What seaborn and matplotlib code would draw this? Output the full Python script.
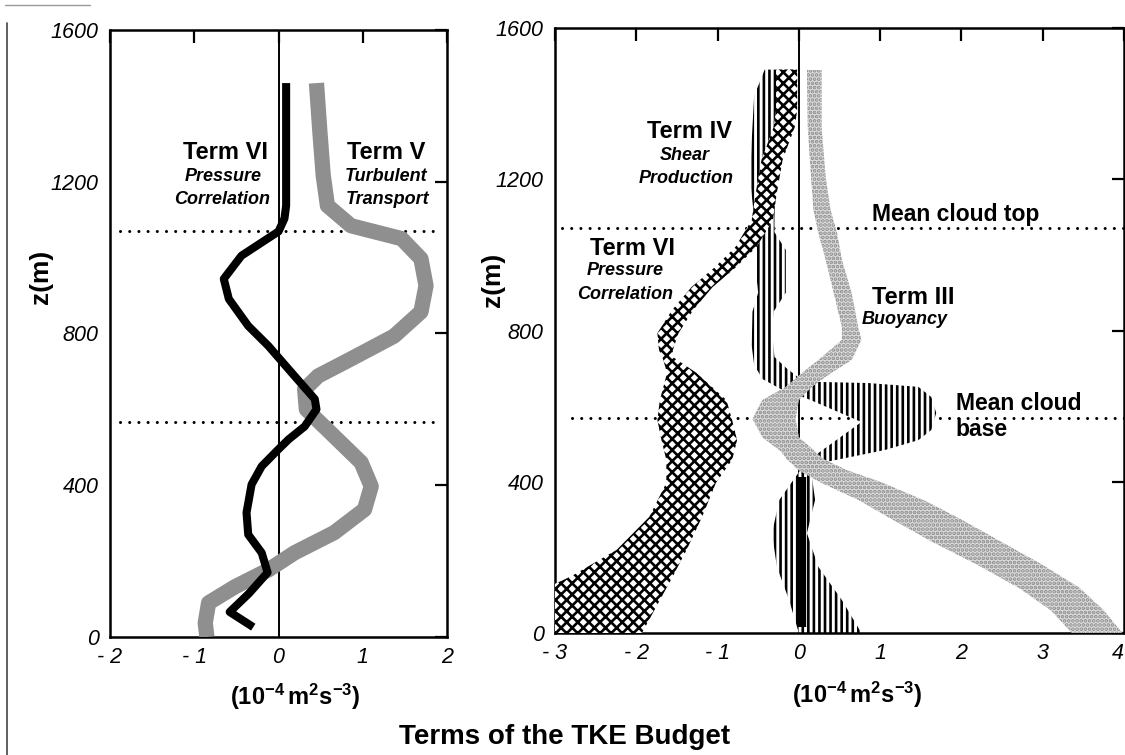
import numpy as np
import pandas as pd
import seaborn as sns
import matplotlib.pyplot as plt
from matplotlib.lines import Line2D

# --- Dados (z em m, termos em 1e-4 m2 s-3) ---

# painel esquerdo: Termo VI (correlacao de pressao), linha preta
z_press_left = [1460, 1137, 1103, 1069, 1005, 944, 891, 820, 767, 698, 627, 600,
                555, 521, 495, 450, 402, 328, 270, 222, 170, 115, 66, 26]
x_press_left = [0.09, 0.09, 0.07, 0.0, -0.44, -0.65, -0.59, -0.36, -0.12, 0.15, 0.43, 0.45,
                0.31, 0.12, 0.0, -0.20, -0.32, -0.38, -0.36, -0.20, -0.13, -0.35, -0.58, -0.30]

# painel esquerdo: Termo V (transporte turbulento), faixa cinza
z_turb = [1460, 1333, 1217, 1137, 1084, 1050, 997, 926, 857, 793, 733, 688, 653, 600,
          529, 460, 397, 336, 275, 222, 177, 132, 90, 37, 0]
x_turb = [0.45, 0.49, 0.53, 0.58, 0.86, 1.46, 1.69, 1.75, 1.69, 1.37, 0.86, 0.47, 0.31, 0.33,
          0.66, 0.98, 1.10, 1.02, 0.66, 0.19, -0.12, -0.52, -0.83, -0.87, -0.85]

# painel direito: Termo VI (correlacao de pressao), envelope quadriculado
z_press = [0, 130, 150, 220, 307, 397, 458, 510, 563, 616, 688, 730, 748, 793,
           854, 915, 968, 1021, 1092, 1164, 1251, 1338, 1383, 1490]
lo_press = [-3.0, -3.0, -2.8, -2.24, -1.84, -1.63, -1.63, -1.69, -1.74, -1.71, -1.62, -1.68, -1.72, -1.74,
            -1.56, -1.32, -1.03, -0.78, -0.58, -0.53, -0.46, -0.31, -0.28, -0.28]
hi_press = [-1.93, -1.6, -1.55, -1.38, -1.19, -1.02, -0.82, -0.76, -0.82, -0.89, -1.26, -1.55, -1.55, -1.48,
            -1.30, -1.06, -0.77, -0.52, -0.32, -0.27, -0.20, -0.05, -0.02, -0.02]

# painel direito: Termo III (empuxo), envelope pontilhado
z_buoy = [0, 60, 120, 180, 240, 300, 350, 400, 430, 460, 480, 518, 566, 616, 651,
          688, 722, 775, 809, 899, 987, 1058, 1119, 1206, 1338, 1489]
lo_buoy = [3.36, 3.10, 2.70, 2.20, 1.65, 1.15, 0.75, 0.25, 0.0, -0.15, -0.22, -0.45, -0.57, -0.45, -0.16,
           0.04, 0.24, 0.53, 0.53, 0.43, 0.33, 0.24, 0.18, 0.15, 0.11, 0.10]
hi_buoy = [3.98, 3.75, 3.45, 3.00, 2.50, 2.00, 1.55, 1.00, 0.60, 0.30, 0.20, 0.0, -0.04, 0.0, 0.16,
           0.40, 0.65, 0.77, 0.73, 0.65, 0.53, 0.47, 0.39, 0.33, 0.28, 0.28]

# painel direito: Termo IV (producao por cisalhamento), contorno da area hachurada
x_shear = [-0.42, -0.55, -0.58, -0.60, -0.55, -0.52, -0.53, -0.50, -0.57, -0.58, -0.55, -0.45,
           -0.22, 0.0, 0.09, 0.77, 0.24, 0.05, -0.04, -0.24, -0.33, -0.27, -0.12, 0.0,
           0.77, 0.53, 0.24, 0.10, 0.20, 0.16, 0.28, 0.65, 1.06, 1.47, 1.63, 1.69, 1.63,
           1.47, 0.86, 0.24, 0.0, -0.15, -0.30, -0.33, -0.31, -0.16, -0.16, -0.30, -0.30,
           -0.28, -0.20, -0.05]
z_shear = [1490, 1420, 1300, 1200, 1100, 1040, 960, 900, 850, 760, 710, 672,
           645, 628, 621, 558, 476, 440, 413, 352, 264, 175, 87, 0,
           0, 87, 175, 264, 352, 413, 450, 466, 484, 510, 537, 582, 624,
           651, 661, 664, 675, 700, 730, 800, 850, 900, 1013, 1060, 1100,
           1200, 1340, 1490]

# barra preta junto ao zero (painel direito)
z_bar = [16, 413]
x_bar = [0.035, 0.035]

cloud_top = 1070
cloud_base = 568

z_ticks = [0, 400, 800, 1200, 1600]
z_ticklabels = ['0', '400', '800', '1200', '1600']
x_ticks_left = [-2, -1, 0, 1, 2]
x_labels_left = ['- 2', '- 1', '0', '1', '2']
x_ticks_right = [-3, -2, -1, 0, 1, 2, 3, 4]
x_labels_right = ['- 3', '- 2', '- 1', '0', '1', '2', '3', '4']

# --- Estilo ---
sns.set_theme(style='white')
plt.rcParams['font.family'] = ['Liberation Sans', 'DejaVu Sans']
plt.rcParams['text.color'] = 'black'
plt.rcParams['axes.labelcolor'] = 'black'
plt.rcParams['xtick.color'] = 'black'
plt.rcParams['ytick.color'] = 'black'
plt.rcParams['hatch.linewidth'] = 1.9
plt.rcParams['mathtext.fontset'] = 'custom'
plt.rcParams['mathtext.rm'] = 'Liberation Sans'
plt.rcParams['mathtext.bf'] = 'Liberation Sans:bold'

fig = plt.figure(figsize=(11.25, 7.55), dpi=100)
ax1 = fig.add_axes([0.0978, 0.1563, 0.2996, 0.804])
ax2 = fig.add_axes([0.4933, 0.1616, 0.5058, 0.8013])

unit_label = r'$\mathbf{(10^{-4}\,m^{2}s^{-3})}$'
dots = (0, (0.01, 3.0))


def style_axes(ax, xlim, xticks, xlabels):
    ax.set_xlim(xlim)
    ax.set_ylim(0, 1600)
    ax.set_xticks(xticks, labels=xlabels, fontstyle='italic', fontsize=15.5)
    ax.set_yticks(z_ticks, labels=z_ticklabels, fontstyle='italic', fontsize=15.5)
    ax.tick_params(direction='in', top=True, right=True, length=9, width=1.6)
    ax.tick_params(axis='y', pad=8)
    ax.tick_params(axis='x', pad=7)
    for s in ax.spines.values():
        s.set_linewidth(1.8)
        s.set_color('black')
    ax.axvline(0, color='black', lw=1.4, zorder=2)
    ax.set_ylabel('z(m)', fontsize=19, fontweight='bold')
    ax.set_xlabel(unit_label, fontsize=17)


# --- Painel esquerdo ---
style_axes(ax1, (-2, 2), x_ticks_left, x_labels_left)
for zc in (cloud_top, cloud_base):
    ax1.axhline(zc, xmin=0.03, xmax=0.97, color='black', lw=2.2, ls=dots,
                dash_capstyle='round', zorder=1)
sns.lineplot(x=x_turb, y=z_turb, orient='y', sort=False, estimator=None, ax=ax1,
             color='#8f8f8f', lw=11, solid_capstyle='butt', zorder=3)
sns.lineplot(x=x_press_left, y=z_press_left, orient='y', sort=False, estimator=None, ax=ax1,
             color='black', lw=5.8, solid_capstyle='butt', solid_joinstyle='round', zorder=4)

head = dict(fontsize=17, fontweight='bold', ha='center', va='center', zorder=1)
sub = dict(fontsize=13, fontweight='bold', fontstyle='italic', ha='center', va='center', zorder=1)
ax1.text(-0.63, 1276, 'Term VI', **head)
ax1.text(-0.66, 1215, 'Pressure', **sub)
ax1.text(-0.67, 1152, 'Correlation', **sub)
ax1.text(1.28, 1276, 'Term V', **head)
ax1.text(1.27, 1215, 'Turbulent', **sub)
ax1.text(1.29, 1152, 'Transport', **sub)

# --- Painel direito ---
style_axes(ax2, (-3, 4), x_ticks_right, x_labels_right)
ax2.get_xticklabels()[-1].set_horizontalalignment('right')
ax2.axhline(cloud_top, xmin=0.012, xmax=1, color='black', lw=2.2, ls=dots,
            dash_capstyle='round', zorder=1)
ax2.axhline(cloud_base, xmin=0.03, xmax=1, color='black', lw=2.2, ls=dots,
            dash_capstyle='round', zorder=1)
ax2.fill(x_shear, z_shear, facecolor='white', edgecolor='black', hatch='|||', lw=0, zorder=2)
ax2.fill_betweenx(z_buoy, lo_buoy, hi_buoy, facecolor='#dedede', edgecolor='#8c8c8c',
                  hatch='....', lw=0, zorder=3)
ax2.fill_betweenx(z_press, lo_press, hi_press, facecolor='white', edgecolor='black',
                  hatch='xxx', lw=0, zorder=4)
sns.lineplot(x=x_bar, y=z_bar, orient='y', sort=False, estimator=None, ax=ax2,
             color='black', lw=6, solid_capstyle='butt', zorder=5)

ax2.text(-1.35, 1325, 'Term IV', **head)
ax2.text(-1.40, 1264, 'Shear', **sub)
ax2.text(-1.39, 1203, 'Production', **sub)
ax2.text(-2.05, 1018, 'Term VI', **head)
ax2.text(-2.13, 960, 'Pressure', **sub)
ax2.text(-2.14, 894, 'Correlation', **sub)
ax2.text(0.90, 1106, 'Mean cloud top', fontsize=16.5, fontweight='bold', ha='left', va='center')
ax2.text(0.90, 886, 'Term III', fontsize=17, fontweight='bold', ha='left', va='center')
ax2.text(0.77, 828, 'Buoyancy', fontsize=13, fontweight='bold', fontstyle='italic',
         ha='left', va='center')
ax2.text(1.93, 608, 'Mean cloud', fontsize=16.5, fontweight='bold', ha='left', va='center', zorder=6)
ax2.text(1.93, 537, 'base', fontsize=16.5, fontweight='bold', ha='left', va='center', zorder=6)

# posicao dos rotulos dos eixos
ax1.yaxis.set_label_coords(-0.169, 0.593)
ax2.yaxis.set_label_coords(-0.088, 0.583)
ax1.xaxis.set_label_coords(0.549, -0.074)
ax2.xaxis.set_label_coords(0.531, -0.078)

fig.text(0.502, 1 - 737 / 755, 'Terms of the TKE Budget', ha='center', va='center',
         fontsize=20, fontweight='bold')

# borda da digitalizacao
fig.add_artist(Line2D([0.006, 0.006], [0.0, 0.97], color='#444444', lw=1.2))
fig.add_artist(Line2D([0.004, 0.08], [0.993, 0.993], color='#999999', lw=1.0))

fig.savefig('out.png', dpi=100, facecolor='white')
